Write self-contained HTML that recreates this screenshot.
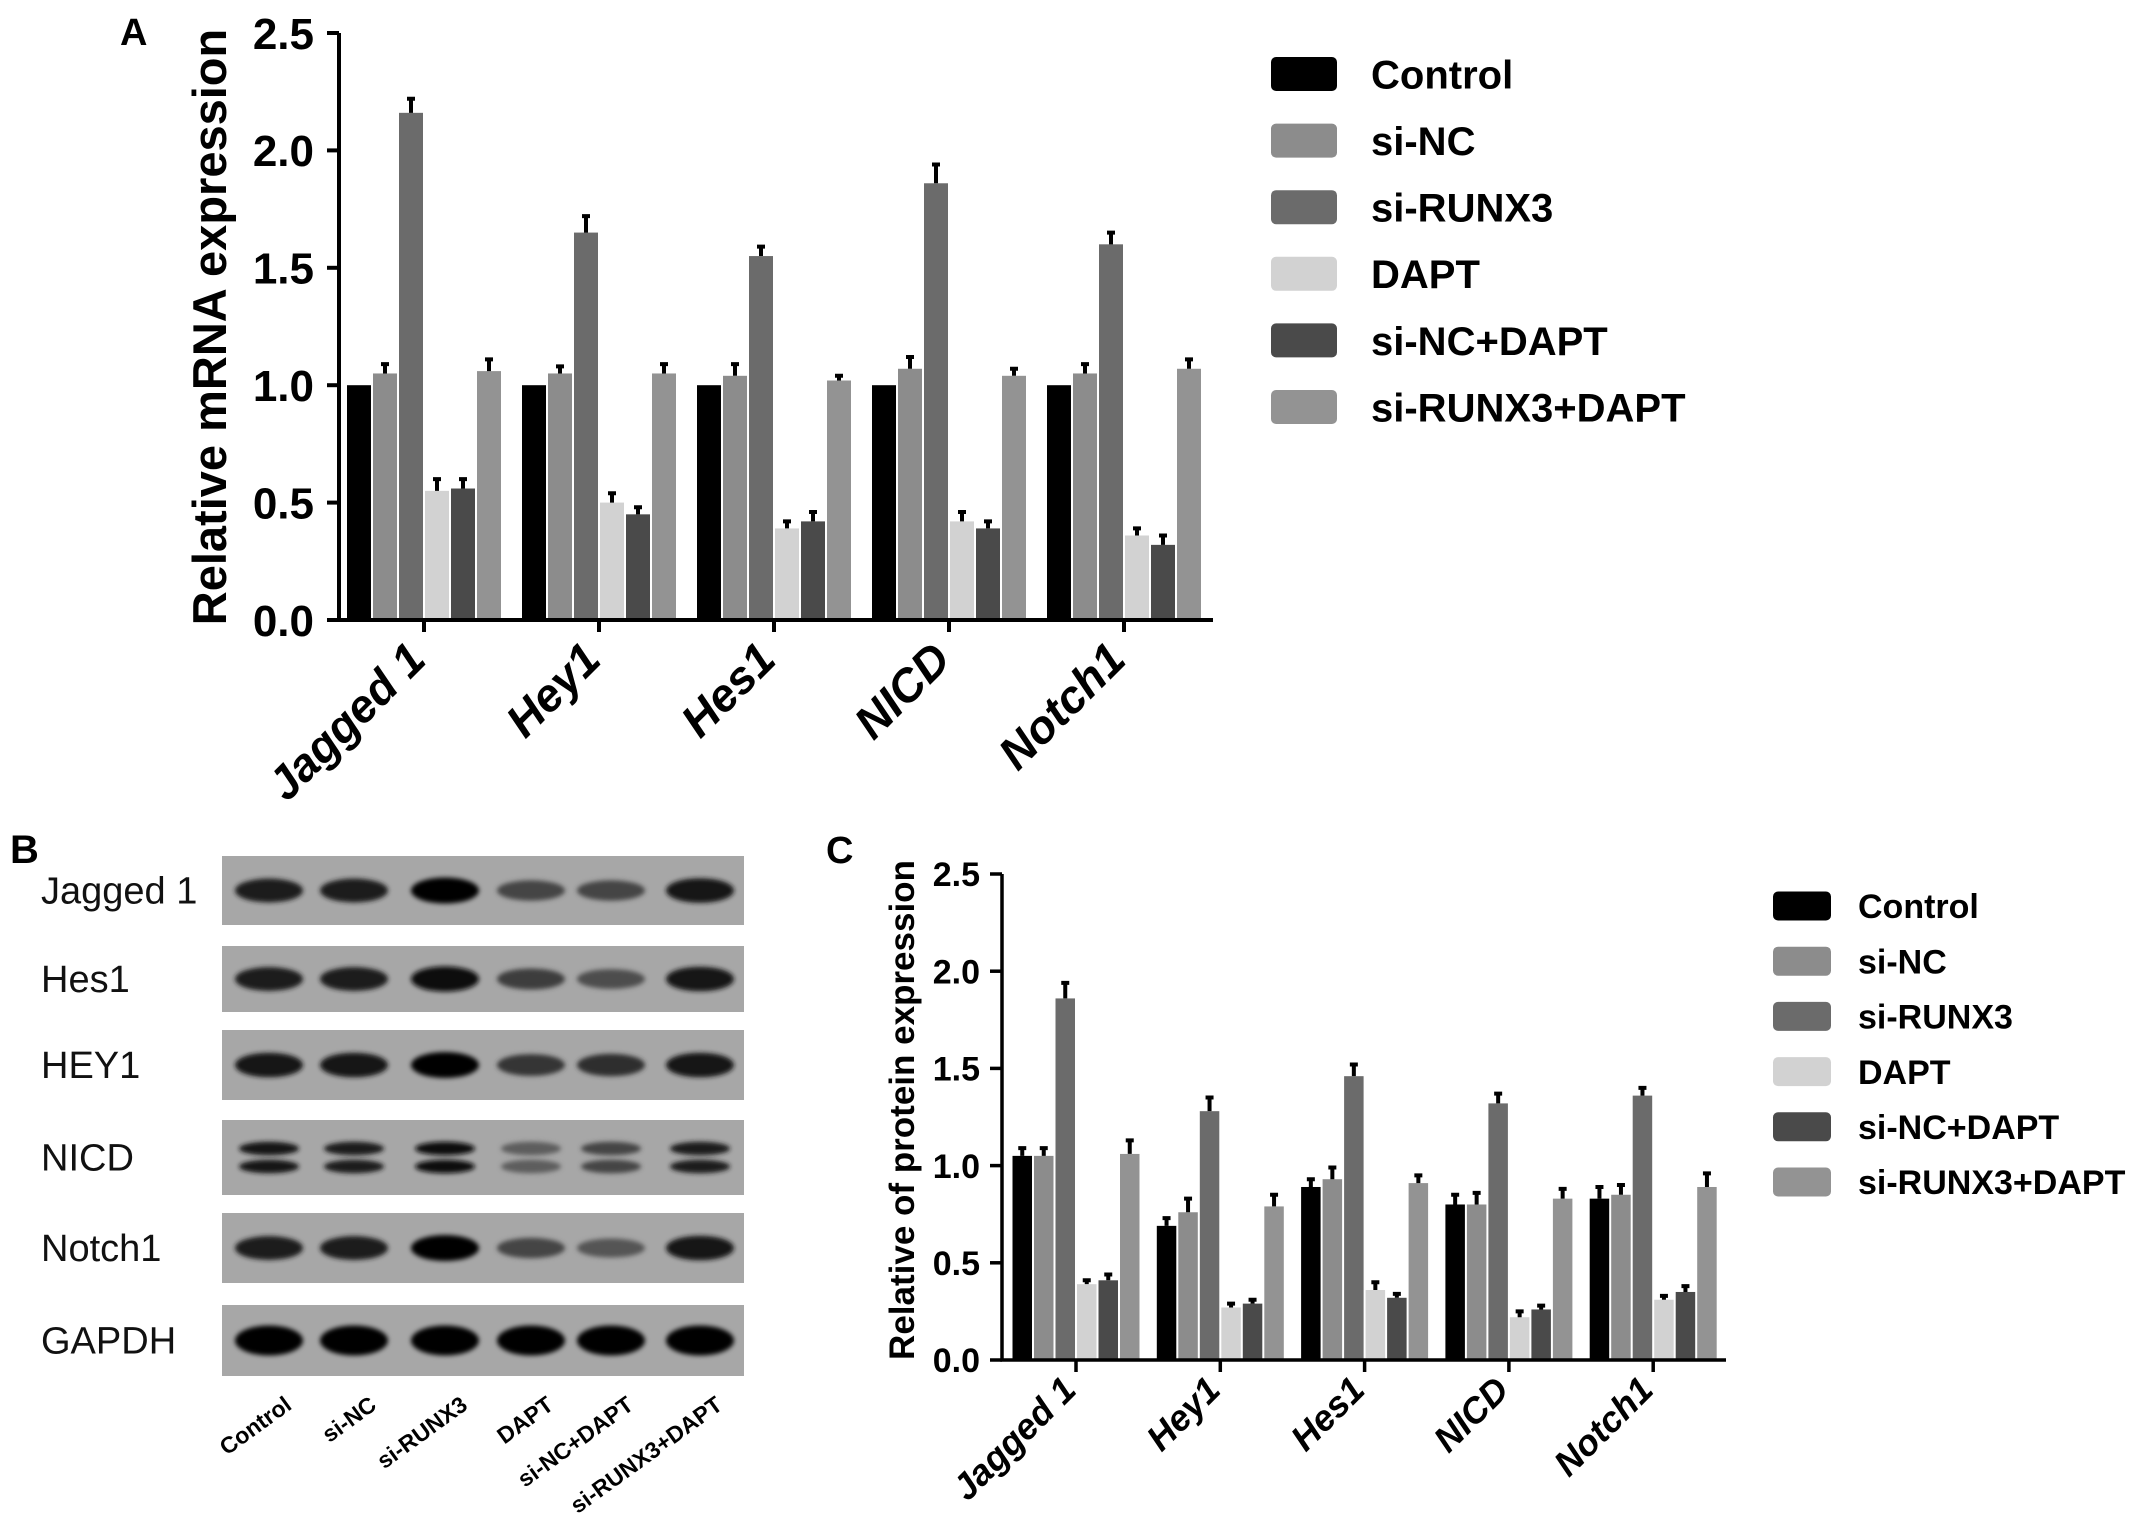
<!DOCTYPE html>
<html><head><meta charset="utf-8">
<style>
html,body{margin:0;padding:0;background:#fff;}
svg{display:block;}
.tk{font-family:"Liberation Sans Narrow","Liberation Sans",sans-serif;font-weight:bold;}
.b{font-family:"Liberation Sans",sans-serif;font-weight:bold;}
.r{font-family:"Liberation Sans",sans-serif;}
</style></head>
<body>
<svg id="fig" width="2150" height="1540" viewBox="0 0 2150 1540" xmlns="http://www.w3.org/2000/svg">
<text x="120" y="45" class="b" font-size="38">A</text>
<text x="10" y="863" class="b" font-size="40">B</text>
<text x="826" y="863" class="b" font-size="38">C</text>
<g id="chartA"></g>
<g id="chartC"></g>
<g id="blot"></g>
</svg>
<script>
const groups = ["Jagged 1","Hey1","Hes1","NICD","Notch1"];
const seriesNames = ["Control","si-NC","si-RUNX3","DAPT","si-NC+DAPT","si-RUNX3+DAPT"];
const seriesColors = ["#000000","#8c8c8c","#6b6b6b","#d2d2d2","#4a4a4a","#939393"];
const yTicks = [0.0,0.5,1.0,1.5,2.0,2.5];
const yTickLabels = ["0.0","0.5","1.0","1.5","2.0","2.5"];
// mRNA values (panel A), per series across groups
const mrnaControl = [1.0,1.0,1.0,1.0,1.0];
const mrnaSiNC = [1.05,1.05,1.04,1.07,1.05];
const mrnaSiRUNX3 = [2.16,1.65,1.55,1.86,1.60];
const mrnaDAPT = [0.55,0.50,0.39,0.42,0.36];
const mrnaSiNCDAPT = [0.56,0.45,0.42,0.39,0.32];
const mrnaSiRUNX3DAPT = [1.06,1.05,1.02,1.04,1.07];
const mrnaErr = [[0,0,0,0,0],[0.04,0.03,0.05,0.05,0.04],[0.06,0.07,0.04,0.08,0.05],[0.05,0.04,0.03,0.04,0.03],[0.04,0.03,0.04,0.03,0.04],[0.05,0.04,0.02,0.03,0.04]];
// protein values (panel C)
const protControl = [1.05,0.69,0.89,0.80,0.83];
const protSiNC = [1.05,0.76,0.93,0.80,0.85];
const protSiRUNX3 = [1.86,1.28,1.46,1.32,1.36];
const protDAPT = [0.39,0.27,0.36,0.22,0.31];
const protSiNCDAPT = [0.41,0.29,0.32,0.26,0.35];
const protSiRUNX3DAPT = [1.06,0.79,0.91,0.83,0.89];
const protErr = [[0.04,0.04,0.04,0.05,0.06],[0.04,0.07,0.06,0.06,0.05],[0.08,0.07,0.06,0.05,0.04],[0.02,0.02,0.04,0.03,0.02],[0.03,0.02,0.02,0.02,0.03],[0.07,0.06,0.04,0.05,0.07]];
// blot band intensities (0..1) per row per lane
const blotRows = ["Jagged 1","Hes1","HEY1","NICD","Notch1","GAPDH"];
const blotLanes = ["Control","si-NC","si-RUNX3","DAPT","si-NC+DAPT","si-RUNX3+DAPT"];
const blotIntensity = [[0.85,0.85,1.0,0.6,0.6,0.9],[0.85,0.85,0.95,0.65,0.55,0.9],[0.9,0.9,1.0,0.7,0.75,0.9],[0.9,0.85,0.95,0.45,0.6,0.85],[0.85,0.85,1.0,0.6,0.5,0.9],[1,1,1,1,1,1]];

const NS="http://www.w3.org/2000/svg";
function mk(parent,tag,attrs){const e=document.createElementNS(NS,tag);for(const k in attrs)e.setAttribute(k,attrs[k]);parent.appendChild(e);return e;}

function drawChart(g,cfg,series,errs){
  const yS=v=>cfg.y0-(v/2.5)*(cfg.y0-cfg.yTop);
  const bw=cfg.bw;
  const xC=i=>cfg.gx0+i*cfg.gStep;
  series.forEach((vals,s)=>{
    vals.forEach((v,i)=>{
      const x=xC(i)-3*bw+s*bw;
      const r=mk(g,'rect',{x:x+1,y:yS(v),width:bw-2,height:cfg.y0-yS(v),fill:seriesColors[s]});
      
      
      const e=errs[s][i];
      if(e>0){
        const cx=x+bw/2;
        const l=mk(g,'path',{d:`M${cx},${yS(v)} V${yS(v+e)} M${cx-4},${yS(v+e)} H${cx+4}`,stroke:'#000','stroke-width':4,fill:'none'});
        
        
      }
    });
  });
  const ax=mk(g,'path',{d:`M${cfg.ax},${cfg.yTop} V${cfg.y0} H${cfg.xEnd}`,stroke:'#000','stroke-width':cfg.aw,fill:'none'});
  
  
  yTicks.forEach((t,k)=>{
    mk(g,'line',{x1:cfg.ax-12,x2:cfg.ax,y1:yS(t),y2:yS(t),stroke:'#000','stroke-width':cfg.aw});
    const tl=mk(g,'text',{x:cfg.tx,y:yS(t)+cfg.tf*0.36,'text-anchor':'end','font-size':cfg.tf,class:'tk'});
    tl.textContent=yTickLabels[k];
    
    
  });
  groups.forEach((name,i)=>{
    mk(g,'line',{x1:xC(i),x2:xC(i),y1:cfg.y0,y2:cfg.y0+12,stroke:'#000','stroke-width':cfg.aw});
    const tx=mk(g,'text',{x:0,y:0,'text-anchor':'end','font-size':cfg.xf,class:'b','font-style':'italic',transform:`translate(${xC(i)+cfg.xdx},${cfg.y0+cfg.xoff}) rotate(-45)`});
    tx.textContent=name;
    
    
  });
  const yt=mk(g,'text',{x:0,y:0,'text-anchor':'middle','font-size':cfg.yf,class:'b',transform:`translate(${cfg.ytx},${cfg.yty}) rotate(-90)`});
  yt.textContent=cfg.ytitle;
  
  
  seriesNames.forEach((n,s)=>{
    const cy=cfg.ly0+s*cfg.lstep;
    const bx=mk(g,'rect',{x:cfg.lx,y:cy-cfg.lh/2,width:cfg.lw,height:cfg.lh,rx:5,fill:seriesColors[s]});
    
    
    const lt=mk(g,'text',{x:cfg.ltx,y:cy+cfg.lf*0.36,'font-size':cfg.lf,class:'tk'});
    lt.textContent=n;
    
    
  });
}

drawChart(document.getElementById('chartA'),{y0:620,yTop:33,gx0:424,gStep:175,bw:26,ax:339,xEnd:1213,aw:4,tf:44,tx:314,xf:46,xdx:4,xoff:42,yf:47,ytx:226,yty:327,ytitle:"Relative mRNA expression",lx:1271,lw:66,lh:34,ly0:74,lstep:66.6,ltx:1371,lf:40},
  [mrnaControl,mrnaSiNC,mrnaSiRUNX3,mrnaDAPT,mrnaSiNCDAPT,mrnaSiRUNX3DAPT],mrnaErr);
drawChart(document.getElementById('chartC'),{y0:1360,yTop:874,gx0:1076,gStep:144.3,bw:21.5,ax:1002,xEnd:1726,aw:3.5,tf:34,tx:980,xf:36,xdx:2,xoff:32,yf:35,ytx:914,yty:1110,ytitle:"Relative of protein expression",lx:1773,lw:58,lh:29,ly0:906,lstep:55.2,ltx:1858,lf:34},
  [protControl,protSiNC,protSiRUNX3,protDAPT,protSiNCDAPT,protSiRUNX3DAPT],protErr);

(function(){
  const g=document.getElementById('blot');
  const defs=mk(g,'defs',{});
  const f=mk(defs,'filter',{id:'bl',x:'-20%',y:'-100%',width:'140%',height:'300%'});
  mk(f,'feGaussianBlur',{stdDeviation:'2.5'});
  const rowTop=[856,946,1030,1120,1213,1305];
  const rowBot=[925,1012,1100,1195,1283,1376];
  const laneX=[269,354,445,531,611,700];
  rowTop.forEach((t,r)=>{
    const s=mk(g,'rect',{x:222,y:t,width:522,height:rowBot[r]-t,fill:'#a7a7a7'});
    
    
    const lb=mk(g,'text',{x:41,y:(t+rowBot[r])/2+13,'font-size':38,class:'r',fill:'#111'});
    lb.textContent=blotRows[r];
    
    
    blotIntensity[r].forEach((v,l)=>{
      const cy=(t+rowBot[r])/2;
      const h=r===5?15:(r===3?8:6+7*v);
      const c=Math.round(165-160*v);
      const fill=`rgb(${c},${c},${c})`;
      if(r===3){
        [-9,9].forEach(d=>{const e=mk(g,'ellipse',{cx:laneX[l],cy:cy+d,rx:30,ry:h*0.85,fill,filter:'url(#bl)'});
          
          });
      } else {
        const e=mk(g,'ellipse',{cx:laneX[l],cy:cy,rx:34,ry:h,fill,filter:'url(#bl)'});
        
        
      }
    });
  });
  blotLanes.forEach((n,l)=>{
    const tx=mk(g,'text',{x:0,y:0,'text-anchor':'end','font-size':23,class:'b',transform:`translate(${laneX[l]+24},${1408}) rotate(-36)`});
    tx.textContent=n;
    
    
  });
})();
</script>
</body></html>
